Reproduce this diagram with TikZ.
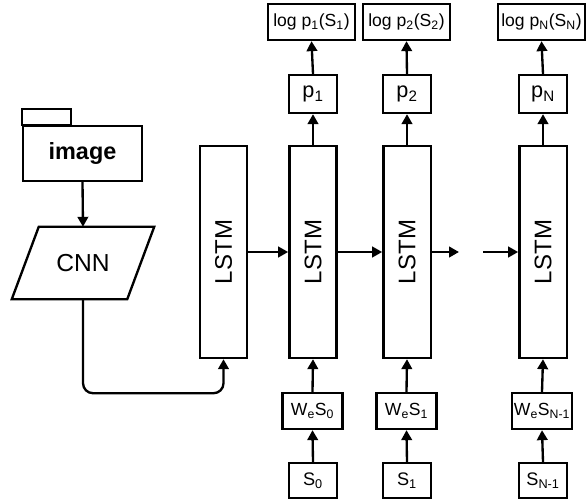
\documentclass[tikz,border=0pt]{standalone}
\usepackage{fontspec}
\setmainfont{Liberation Sans}
\usetikzlibrary{arrows.meta}
\begin{document}
\begin{tikzpicture}[x=0.03cm,y=-0.03cm,
  box/.style={draw, line width=2pt, inner sep=0pt, align=center},
  lstm/.style={box, minimum width=1.42cm, minimum height=6.36cm, font=\fontsize{20.5}{24}\selectfont},
  pbox/.style={box, minimum width=1.44cm, minimum height=1.14cm, font=\fontsize{18.5}{22}\selectfont},
  logbox/.style={box, minimum width=2.61cm, minimum height=1.08cm, font=\fontsize{15}{18}\selectfont},
  wbox/.style={box, minimum width=1.8cm, minimum height=1.08cm, font=\fontsize{15}{18}\selectfont},
  sbox/.style={box, minimum width=1.44cm, minimum height=1.05cm, font=\fontsize{15.5}{18}\selectfont},
  arr/.style={line width=2pt, -{Triangle[length=8.5pt,width=9pt]}}
]
\useasboundingbox (0,0) rectangle (586,501);

% image folder
\node[box, minimum width=3.57cm, minimum height=1.65cm, font=\fontsize{20}{24}\selectfont\bfseries] (img) at (82.5,153.5) {image};
\draw[line width=2pt] (img.north west) rectangle ++(49,-16);

% CNN parallelogram
\node[inner sep=0pt, minimum width=3.45cm, minimum height=2.16cm, font=\fontsize{21}{25}\selectfont] (cnn) at (83,263) {CNN};
\draw[line width=2pt, line join=miter]
  ([xshift=0.405cm]cnn.north west) -- ([xshift=0.405cm]cnn.north east)
  -- ([xshift=-0.405cm]cnn.south east) -- ([xshift=-0.405cm]cnn.south west) -- cycle;
\draw[arr] (img.south) -- (cnn.north);

% LSTMs
\node[lstm] (l0) at (223.5,252) {\rotatebox{90}{LSTM}};
\node[lstm] (l1) at (313,252) {\rotatebox{90}{LSTM}};
\node[lstm] (l2) at (407,252) {\rotatebox{90}{LSTM}};
\node[lstm] (ln) at (543,252) {\rotatebox{90}{LSTM}};

\draw[arr, rounded corners=0.3cm] (cnn.south) -- ++(0,94) -| (l0.south);

\coordinate (gapa) at (459,252);
\coordinate (gapb) at (483,252);
\draw[arr] (l0.east) -- (l1.west);
\draw[arr] (l1.east) -- (l2.west);
\draw[arr] (l2.east) -- (gapa);
\draw[arr] (gapb) -- (ln.west);

% p boxes
\node[pbox] (p1) at (313,94) {p\textsubscript{1}};
\node[pbox] (p2) at (407,94) {p\textsubscript{2}};
\node[pbox] (pn) at (543,94) {p\textsubscript{N}};

% log boxes
\node[logbox] (g1) at (311.5,22) {log p\textsubscript{1}(S\textsubscript{1})};
\node[logbox] (g2) at (406.5,22) {log p\textsubscript{2}(S\textsubscript{2})};
\node[logbox] (gn) at (541.5,22) {log p\textsubscript{N}(S\textsubscript{N})};

% W boxes
\node[wbox] (w0) at (312.5,411) {W\textsubscript{e}S\textsubscript{0}};
\node[wbox] (w1) at (406.5,411) {W\textsubscript{e}S\textsubscript{1}};
\node[wbox] (wn) at (542,411) {W\textsubscript{e}S\textsubscript{N-1}};

% S boxes
\node[sbox] (s0) at (313,480.5) {S\textsubscript{0}};
\node[sbox] (s1) at (407,480.5) {S\textsubscript{1}};
\node[sbox] (sn) at (543,480.5) {S\textsubscript{N-1}};

\foreach \a/\b in {s0/w0,s1/w1,sn/wn,w0/l1,w1/l2,wn/ln,l1/p1,l2/p2,ln/pn,p1/g1,p2/g2,pn/gn}
  \draw[arr] (\a.north) -- (\b.south);
\end{tikzpicture}
\end{document}
